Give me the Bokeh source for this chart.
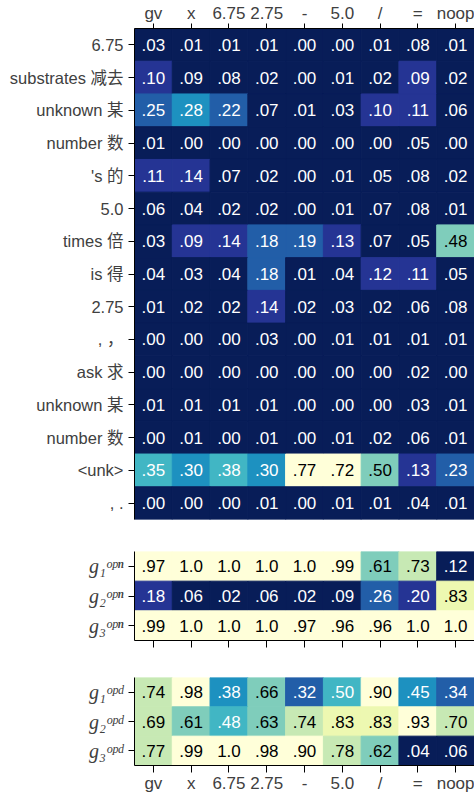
import numpy as np
from bokeh.plotting import figure
from bokeh.models import ColumnDataSource, LinearColorMapper, FixedTicker, Range1d
from bokeh.palettes import YlGnBu9
from bokeh.layouts import column
from bokeh.transform import transform
from bokeh.embed import file_html
from bokeh.resources import INLINE
from bokeh.core.properties import value

# ---- data ----
ops = ["gv", "x", "6.75", "2.75", "-", "5.0", "/", "=", "noop"]

tokens = ["6.75", "substrates 减去", "unknown 某", "number 数", "'s 的", "5.0",
          "times 倍", "is 得", "2.75", ", ，", "ask 求", "unknown 某",
          "number 数", "<unk>", ", ."]

attention = [
    [.03, .01, .01, .01, .00, .00, .01, .08, .01],
    [.10, .0855, .08, .02, .00, .01, .02, .09, .02],
    [.25, .28, .22, .07, .01, .03, .10, .11, .06],
    [.01, .00, .00, .00, .00, .00, .00, .05, .00],
    [.11, .14, .07, .02, .00, .01, .05, .08, .02],
    [.06, .04, .02, .02, .00, .01, .07, .08, .01],
    [.03, .09, .14, .18, .19, .13, .07, .05, .48],
    [.04, .03, .04, .18, .01, .04, .12, .11, .05],
    [.01, .02, .02, .14, .02, .03, .02, .06, .08],
    [.00, .00, .00, .03, .00, .01, .01, .01, .01],
    [.00, .00, .00, .00, .00, .00, .00, .02, .00],
    [.01, .01, .01, .01, .00, .00, .00, .03, .01],
    [.00, .01, .00, .01, .00, .01, .02, .06, .01],
    [.35, .30, .38, .30, .77, .72, .50, .13, .23],
    [.00, .00, .00, .01, .00, .01, .01, .04, .01],
]

opn_labels = ["g\u2081\u1d52\u1d56\u207f", "g\u2082\u1d52\u1d56\u207f", "g\u2083\u1d52\u1d56\u207f"]
opn_gates = [
    [.97, 1.0, 1.0, 1.0, 1.0, .99, .61, .73, .12],
    [.18, .06, .02, .06, .02, .09, .26, .20, .83],
    [.99, 1.0, 1.0, 1.0, .97, .96, .96, 1.0, 1.0],
]

opd_labels = ["g\u2081\u1d52\u1d56\u1d48", "g\u2082\u1d52\u1d56\u1d48", "g\u2083\u1d52\u1d56\u1d48"]
opd_gates = [
    [.74, .98, .38, .66, .32, .50, .90, .45, .34],
    [.69, .61, .48, .63, .74, .83, .83, .93, .70],
    [.77, .99, 1.0, .98, .90, .78, .62, .04, .06],
]

PAL = list(YlGnBu9)  # dark -> light
SANS = "Liberation Sans, Arial, 'Noto Sans CJK SC', sans-serif"
LABEL_COLOR = "#404040"


def fmt(v):
    s = f"{v:.2f}"
    if s == "1.00":
        return "1.0"
    return s[1:] if s.startswith("0") else s


def panel(rows, vals, frame_h, xaxis_loc, show_xlabels, row_font, row_size,
          row_style, mb_top, mb_bottom):
    vals = np.array(vals, dtype=float)
    nr, nc = vals.shape
    lo, hi = float(vals.min()), float(vals.max())
    n = len(PAL)
    mapper = LinearColorMapper(palette=PAL, low=lo, high=hi)
    xs, ys, vs, txt, tcol = [], [], [], [], []
    for i in range(nr):
        for j in range(nc):
            v = vals[i, j]
            xs.append(j)
            ys.append(i)
            vs.append(v)
            txt.append(fmt(v))
            b = min(int((v - lo) / (hi - lo) * n), n - 1)
            tcol.append("#000000" if b >= 5 else "#ffffff")
    src = ColumnDataSource(dict(x=xs, y=ys, v=vs, t=txt, tc=tcol))

    p = figure(width=474, frame_height=frame_h,
               x_range=Range1d(-0.5, nc - 0.5), y_range=Range1d(nr - 0.5, -0.5),
               x_axis_location=xaxis_loc, output_backend="svg",
               toolbar_location=None, min_border_left=134, min_border_right=0,
               min_border_top=mb_top, min_border_bottom=mb_bottom)
    p.rect(x="x", y="y", width=1, height=1, source=src,
           fill_color=transform("v", mapper), line_color=transform("v", mapper),
           line_width=1)
    p.text(x="x", y="y", text="t", source=src, text_color="tc",
           text_align="center", text_baseline="middle",
           text_font=value("Liberation Sans"), text_font_size="17px")

    p.grid.visible = False
    p.outline_line_color = None
    p.background_fill_color = "white"

    xa = p.xaxis[0]
    xa.ticker = FixedTicker(ticks=list(range(nc)))
    xa.major_label_overrides = {i: (ops[i] if show_xlabels else "") for i in range(nc)}
    xa.major_label_text_font = SANS
    xa.major_label_text_font_size = "17px"
    xa.major_label_text_color = LABEL_COLOR
    xa.axis_line_color = "black"
    xa.major_tick_line_color = "black"
    xa.minor_tick_line_color = None
    xa.major_tick_in = 0
    xa.major_tick_out = 5 if xaxis_loc == "above" else 7
    xa.major_label_standoff = 1

    ya = p.yaxis[0]
    ya.ticker = FixedTicker(ticks=list(range(nr)))
    ya.major_label_overrides = {i: rows[i] for i in range(nr)}
    ya.major_label_text_font = row_font
    ya.major_label_text_font_size = row_size
    ya.major_label_text_font_style = row_style
    ya.major_label_text_color = LABEL_COLOR
    ya.axis_line_color = "black"
    ya.major_tick_line_color = "black"
    ya.minor_tick_line_color = None
    ya.major_tick_in = 0
    ya.major_tick_out = 6
    ya.major_label_standoff = 5
    return p


SERIF = "'Liberation Serif', 'DejaVu Serif', serif"

p_main = panel(tokens, attention, 491, "above", True, SANS, "16.5px", "normal", 0, 32)
p_opn = panel(opn_labels, opn_gates, 89, "below", False, SERIF, "20px", "italic", 0, 37)
p_opd = panel(opd_labels, opd_gates, 88, "below", True, SERIF, "20px", "italic", 0, 0)

layout = column(p_main, p_opn, p_opd, spacing=0)

open("out.html", "w").write(file_html(layout, INLINE))
